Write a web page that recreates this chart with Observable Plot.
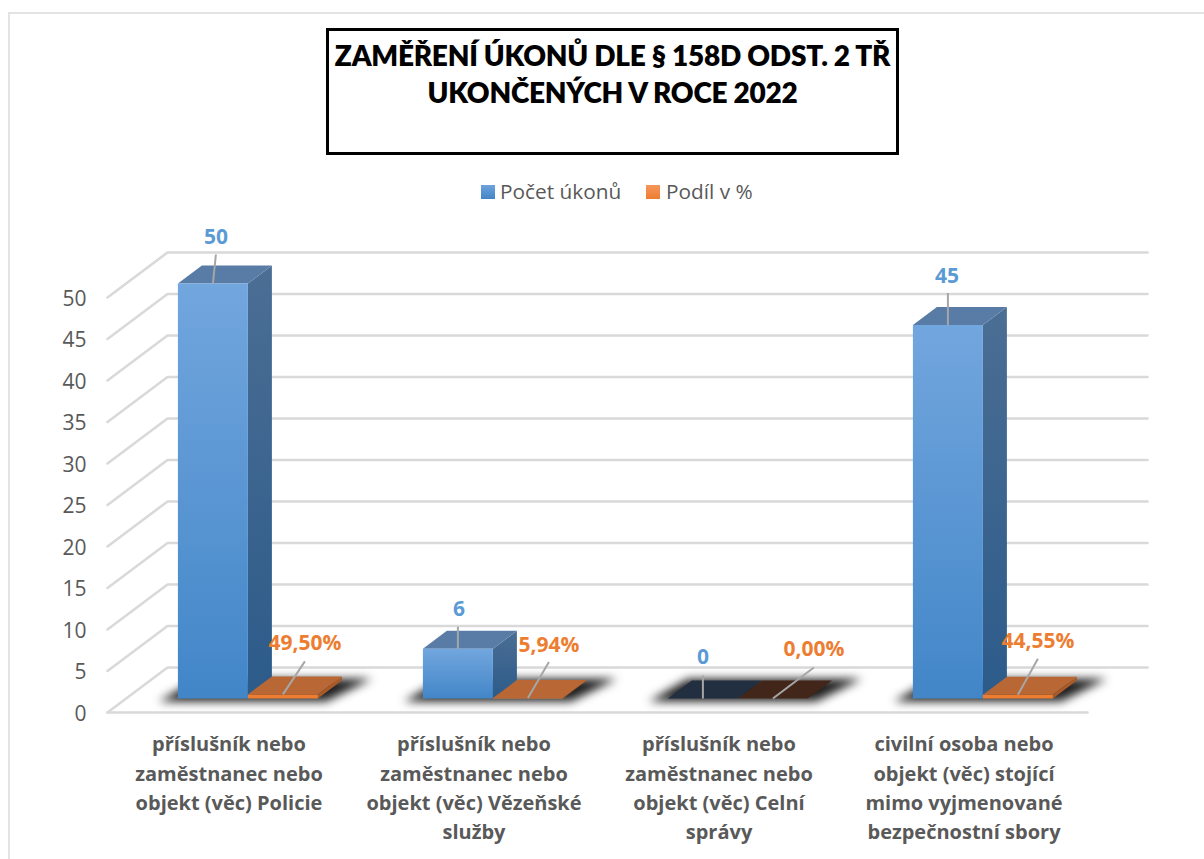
<!DOCTYPE html>
<html lang="cs">
<head>
<meta charset="utf-8">
<script src="https://cdn.jsdelivr.net/npm/d3@7"></script>
<script src="https://cdn.jsdelivr.net/npm/@observablehq/plot@0.6"></script>
<style>
  html,body{margin:0;padding:0;background:#fff;width:1204px;height:859px;overflow:hidden}
  #frame{position:absolute;left:8px;top:12px;width:1196px;height:847px;border-left:2px solid #e3e3e3;border-top:2px solid #e3e3e3;box-sizing:border-box}
  #title{position:absolute;left:326px;top:28px;width:573px;height:127px;box-sizing:border-box;border:3px solid #000;
    font:800 28px/37px Lato,sans-serif;letter-spacing:-0.25px;color:#000;text-align:center;padding-top:6px;background:#fff;white-space:nowrap}
  #legend{position:absolute;top:177px;left:0;width:1204px;height:28px;font:20.8px/28px "Open Sans",sans-serif;color:#595959}
  #legend i{position:absolute;top:8px;width:14px;height:14px}
  #legend span{position:absolute;top:0;white-space:nowrap}
  #chart{position:absolute;left:0;top:210px}
  #chart svg{overflow:visible;background:transparent;display:block}
</style>
</head>
<body>
<div id="frame"></div>
<div id="title">ZAMĚŘENÍ ÚKONŮ DLE § 158D ODST. 2 TŘ<br>UKONČENÝCH V ROCE 2022</div>
<div id="legend">
  <i style="left:481px;background:linear-gradient(#6fa3dc,#4385c7)"></i><span id="l1" style="left:500px"></span>
  <i style="left:646px;background:linear-gradient(#f6965c,#ed7d31)"></i><span id="l2" style="left:666px"></span>
</div>
<div id="chart"></div>
<script>
// ---- data ----
const categories = [
  "příslušník nebo\nzaměstnanec nebo\nobjekt (věc) Policie",
  "příslušník nebo\nzaměstnanec nebo\nobjekt (věc) Vězeňské\nslužby",
  "příslušník nebo\nzaměstnanec nebo\nobjekt (věc) Celní\nsprávy",
  "civilní osoba nebo\nobjekt (věc) stojící\nmimo vyjmenované\nbezpečnostní sbory"
];
const seriesNames = ["Počet úkonů", "Podíl v %"];
const pocetUkonu = [50, 6, 0, 45];
const podil = [0.495, 0.0594, 0, 0.4455];
const yTicks = [0, 5, 10, 15, 20, 25, 30, 35, 40, 45, 50];

// ---- layout of the pseudo-3D box (data units) ----
const pxX = 245, pxY = 8.3;              // pixels per data unit
const wallX = 60 / pxX, wallY = 45 / pxY; // depth of the chart floor
const planeX = 17.9 / pxX, planeY = 14 / pxY; // front plane of the bars
const depthX = 24 / pxX, depthY = 18 / pxY;   // depth of a bar
const gap = 0.2143, barW = 0.2857;
// label offsets in px from the middle of a bar's top edge: leader tip, label centre
const blueOffsets = [[3,-29,3,-46],[0,-22,1,-39],[0,-23,0,-41],[0,-32,-1,-49]];
const orangeOffsets = [[22,-33,22,-51],[21,-36,21,-53],[41,-31,41,-49],[20,-36,20,-54]];

const fmtPct = v => (v * 100).toFixed(2).replace(".", ",") + "%";
document.getElementById("l1").textContent = seriesNames[0];
document.getElementById("l2").textContent = seriesNames[1];

const poly = (pts, fill, extra = {}) =>
  Plot.line(pts.map(([x, y]) => ({x, y})), {x: "x", y: "y", fill, stroke: "none", curve: "linear", ...extra});

const defs = () => {
  const d = d3.create("svg:defs");
  const grad = (id, a, b) => {
    const g = d.append("linearGradient").attr("id", id).attr("x1", 0).attr("y1", 0).attr("x2", 0).attr("y2", 1);
    g.append("stop").attr("offset", "0%").attr("stop-color", a);
    g.append("stop").attr("offset", "100%").attr("stop-color", b);
  };
  grad("blueFront", "#72a6de", "#4286c8");
  grad("blueSide", "#4b6e94", "#2c5b8a");
  return d.node();
};

const marks = [defs];

// grid: along the left wall and along the back wall
for (const t of yTicks) {
  marks.push(Plot.line([[0, t], [wallX, t + wallY], [4 + wallX, t + wallY]], {
    x: d => d[0], y: d => d[1], stroke: "#d9d9d9", strokeWidth: 2.6, curve: "linear"
  }));
}
marks.push(Plot.line([[0, 0], [4, 0]], {x: d => d[0], y: d => d[1], stroke: "#d9d9d9", strokeWidth: 2.6}));

// floor shadows
categories.forEach((_, i) => {
  const x0 = i + gap + planeX, x1 = x0 + 2 * barW;
  const y0 = planeY - 0.35, y1 = planeY + depthY + 0.2;
  marks.push(poly([
    [x0 - 19 / pxX, y0],
    [x1 + 8 / pxX, y0],
    [x1 + depthX + 30 / pxX, y1],
    [x0 + depthX - 4 / pxX, y1]
  ], "#1f1f1f", {imageFilter: "blur(5px)"}));
});

// bars, painter's order
const box = (x0, h, cFront, cSide, cTop) => {
  const x1 = x0 + barW, b = planeY, t = planeY + h;
  marks.push(poly([[x1, b], [x1 + depthX, b + depthY], [x1 + depthX, t + depthY], [x1, t]], cSide));
  marks.push(poly([[x0, t], [x1, t], [x1 + depthX, t + depthY], [x0 + depthX, t + depthY]], cTop));
  marks.push(poly([[x0, b], [x1, b], [x1, t], [x0, t]], cFront));
};
categories.forEach((_, i) => {
  const xb = i + gap + planeX, xo = xb + barW;
  box(xb, pocetUkonu[i], "url(#blueFront)", "url(#blueSide)", pocetUkonu[i] === 0 ? "#222f40" : "#587ca6");
  box(xo, podil[i], "#ee7d31", "#a85b28", podil[i] === 0 ? "#42261a" : "#b86735");
});

// leaders and data labels
const leaders = (vals, x0, offs, fmt, color) => {
  const rows = vals.map((v, i) => {
    const ax = i + x0 + barW / 2, ay = planeY + v, o = offs[i];
    return {ax, ay, tx: ax + o[0] / pxX, ty: ay + o[1] / -pxY, lx: ax + o[2] / pxX, ly: ay + o[3] / -pxY, text: fmt(v)};
  });
  marks.push(Plot.link(rows, {x1: "ax", y1: "ay", x2: "tx", y2: "ty", stroke: "#a6a6a6", strokeWidth: 2}));
  marks.push(Plot.text(rows, {x: "lx", y: "ly", text: "text", fill: color, fontWeight: 700, fontSize: 21,
    fontFamily: "Open Sans", stroke: "none", textAnchor: "middle"}));
};
leaders(pocetUkonu, gap + planeX, blueOffsets, v => String(v), "#5b9bd5");
leaders(podil, gap + planeX + barW, orangeOffsets, fmtPct, "#ed7d31");

// category labels
marks.push(Plot.text(categories, {
  x: (_, i) => i + 0.5 - 1 / pxX, y: () => 0, text: d => d, dy: 18, lineAnchor: "top", lineHeight: 1.465,
  fontSize: 20, fontWeight: 700, fontFamily: "Open Sans", fill: "#595959", textAnchor: "middle"
}));

// value axis
marks.push(Plot.axisY({ticks: yTicks, tickSize: 0, tickPadding: 21, dy: 1.5, fontSize: 21, fontFamily: "Open Sans", fill: "#595959", label: null}));

const chart = Plot.plot({
  width: 1204, height: 649,
  marginLeft: 107, marginRight: 57, marginTop: 42, marginBottom: 147,
  x: {domain: [0, 4 + wallX], axis: null},
  y: {domain: [0, 50 + wallY]},
  style: {background: "transparent", overflow: "visible"},
  marks
});
document.getElementById("chart").append(chart);
</script>
</body>
</html>
